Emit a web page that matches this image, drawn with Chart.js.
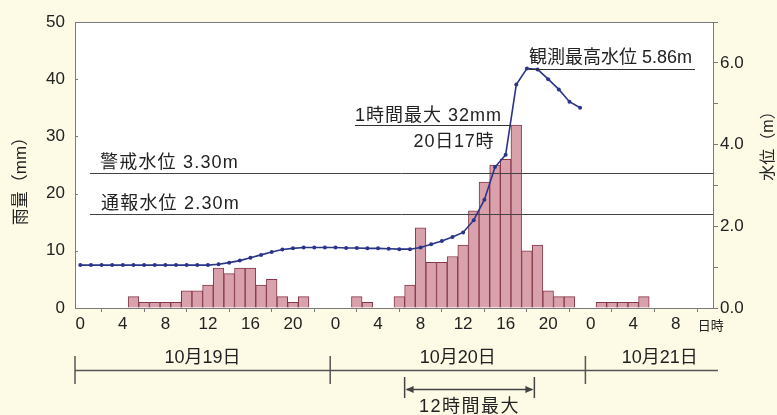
<!DOCTYPE html>
<html><head><meta charset="utf-8">
<script src="https://cdn.jsdelivr.net/npm/chart.js@4/dist/chart.umd.min.js"></script>
<style>html,body{margin:0;padding:0;background:#fdfae6;}#wrap{width:777px;height:415px;}</style>
</head><body><div id="wrap"><canvas id="c" width="777" height="415"></canvas></div>
<script>
// hourly categories: 10/19 0h .. 10/21 11h
const hourLabels = [
 '0','1','2','3','4','5','6','7','8','9','10','11','12','13','14','15','16','17','18','19','20','21','22','23',
 '0','1','2','3','4','5','6','7','8','9','10','11','12','13','14','15','16','17','18','19','20','21','22','23',
 '0','1','2','3','4','5','6','7','8','9','10','11'];
const dayLabels = ['10月19日','10月20日','10月21日'];
// hourly rainfall (mm)
const rainfall = [
 0,0,0,0,0,2,1,1,1,1,3,3,4,7,6,7,7,4,5,2,1,2,0,0,
 0,0,2,1,0,0,2,4,14,8,8,9,11,17,22,25,26,32,10,11,3,2,2,0,
 0,1,1,1,1,2,0,0,0,0,0,0];
// water level (m)
const waterLevel = [
 1.05,1.05,1.05,1.05,1.05,1.05,1.05,1.05,1.05,1.05,1.05,1.05,1.05,1.07,1.11,1.16,1.23,1.30,1.37,1.43,1.46,1.48,1.48,1.48,
 1.48,1.47,1.47,1.46,1.46,1.45,1.44,1.44,1.48,1.56,1.64,1.74,1.85,2.15,2.65,3.45,3.75,5.47,5.86,5.84,5.60,5.35,5.05,4.90];
const rainTicks = [0,10,20,30,40,50];
const levelTicks = [0,1,2,3,4,5,6,7];
const warnLevel = 3.30, reportLevel = 2.30, peakLevel = 5.86, peakIndex = 42, maxRain = 32, maxRainIndex = 41;
const max12Start = 30.5, max12End = 42.7;

const FONT = '"Liberation Sans","Noto Sans CJK JP",sans-serif';
const INK = '#222';
const AX = '#7a7a7a';

function txt(ctx, s, x, y, size, align, spacing) {
  ctx.save();
  ctx.font = size + 'px ' + FONT;
  ctx.fillStyle = INK;
  ctx.textAlign = align || 'left';
  ctx.textBaseline = 'alphabetic';
  if ('letterSpacing' in ctx) ctx.letterSpacing = (spacing || 0) + 'px';
  ctx.fillText(s, x, y);
  ctx.restore();
}
function line(ctx, x1, y1, x2, y2, color, w) {
  ctx.save();
  ctx.strokeStyle = color; ctx.lineWidth = w || 1;
  ctx.beginPath(); ctx.moveTo(x1, y1); ctx.lineTo(x2, y2); ctx.stroke();
  ctx.restore();
}

const deco = {
  id: 'deco',
  beforeDraw(chart) {
    const ctx = chart.ctx, a = chart.chartArea;
    ctx.save();
    ctx.fillStyle = '#fdfae6';
    ctx.fillRect(0, 0, chart.width, chart.height);
    ctx.fillStyle = '#ffffff';
    ctx.fillRect(a.left, a.top, a.right - a.left, a.bottom - a.top);
    ctx.restore();
  },
  afterDatasetDraw(chart, args) {
    if (args.index !== 1) return;
    const ctx = chart.ctx, a = chart.chartArea, y2 = chart.scales.y2;
    const yw = Math.round(y2.getPixelForValue(warnLevel)) + 0.5;
    const yr = Math.round(y2.getPixelForValue(reportLevel)) + 0.5;
    line(ctx, 90, yw, a.right, yw, '#444', 1);
    line(ctx, 90, yr, a.right, yr, '#444', 1);
  },
  afterDraw(chart) {
    const ctx = chart.ctx, a = chart.chartArea;
    const xs = chart.scales.x, ys = chart.scales.y, y2 = chart.scales.y2;
    const cw = (xs.right - xs.left) / hourLabels.length;
    const px = v => xs.getPixelForValue(0) + v * cw;
    // top frame
    line(ctx, a.left, a.top + 0.5, a.right, a.top + 0.5, AX, 1);
    // inward ticks on left axis
    rainTicks.forEach(v => {
      const y = Math.round(ys.getPixelForValue(v)) + 0.5;
      line(ctx, a.left, y, a.left + 3, y, AX, 1);
    });
    // axis titles
    ctx.save();
    ctx.translate(20, 177); ctx.rotate(-Math.PI / 2);
    txt(ctx, '雨量（mm）', 0, 6, 17, 'center');
    ctx.restore();
    ctx.save();
    ctx.translate(767, 142); ctx.rotate(-Math.PI / 2);
    txt(ctx, '水位（m）', 0, 6, 16, 'center');
    ctx.restore();
    txt(ctx, '日時', px(59) + 3, 330, 13, 'center');
    // reference level labels
    const yw = y2.getPixelForValue(warnLevel), yr = y2.getPixelForValue(reportLevel);
    txt(ctx, '警戒水位 3.30m', 100, yw - 5, 18, 'left', 1.2);
    txt(ctx, '通報水位 2.30m', 101, yr - 5, 18, 'left', 1.2);
    // peak level
    const yp = Math.round(y2.getPixelForValue(peakLevel)) + 0.5;
    line(ctx, px(peakIndex) + 2, yp, 695, yp, '#333', 1);
    txt(ctx, '観測最高水位 5.86m', 529, yp - 7, 18, 'left', 0);
    // max hourly rain
    const ym = Math.round(ys.getPixelForValue(maxRain)) + 0.5;
    line(ctx, 355, ym, px(maxRainIndex) - cw / 2, ym, '#333', 1);
    txt(ctx, '1時間最大 32mm', 355, ym - 5, 18, 'left', 1);
    txt(ctx, '20日17時', 454, ym + 21, 18, 'center', 0.8);
    // timeline of dates
    const ty = 370.5;
    line(ctx, a.left, ty, 718, ty, '#555', 1.5);
    [ -0.5, 23.5, 47.5 ].forEach(v => line(ctx, px(v), 356, px(v), 384, '#555', 1.5));
    txt(ctx, dayLabels[0], px(11.5), 363, 18, 'center', 0);
    txt(ctx, dayLabels[1], px(35.5), 363, 18, 'center', 0);
    txt(ctx, dayLabels[2], px(54.5), 363, 18, 'center', 0);
    // 12-hour max bracket
    const bx1 = px(max12Start), bx2 = px(max12End), by = 389.5;
    line(ctx, bx1, 377, bx1, 398, '#444', 1.5);
    line(ctx, bx2, 377, bx2, 398, '#444', 1.5);
    line(ctx, bx1 + 2, by, bx2 - 2, by, '#444', 1.5);
    ctx.save(); ctx.fillStyle = '#444';
    ctx.beginPath(); ctx.moveTo(bx1 + 1, by); ctx.lineTo(bx1 + 9, by - 3.5); ctx.lineTo(bx1 + 9, by + 3.5); ctx.closePath(); ctx.fill();
    ctx.beginPath(); ctx.moveTo(bx2 - 1, by); ctx.lineTo(bx2 - 9, by - 3.5); ctx.lineTo(bx2 - 9, by + 3.5); ctx.closePath(); ctx.fill();
    ctx.restore();
    txt(ctx, '12時間最大', (bx1 + bx2) / 2, 412, 18, 'center', 1.5);
  }
};

new Chart(document.getElementById('c'), {
  data: {
    labels: hourLabels,
    datasets: [
      {
        type: 'line', yAxisID: 'y2', order: 1,
        data: waterLevel,
        borderColor: '#2a3588', backgroundColor: '#2a3588',
        borderWidth: 1.6, pointRadius: 2, pointHoverRadius: 2,
        pointBorderWidth: 0, tension: 0, fill: false
      },
      {
        type: 'bar', yAxisID: 'y', order: 2,
        data: rainfall.map(v => v || null),
        backgroundColor: '#d9a1ab', borderColor: '#86384a', borderWidth: 1,
        barPercentage: 1, categoryPercentage: 1, borderSkipped: 'start'
      }
    ]
  },
  options: {
    responsive: false, animation: false, devicePixelRatio: 1, events: [],
    layout: { padding: { top: 22, bottom: 77, left: 0, right: 0 } },
    plugins: { legend: { display: false }, tooltip: { enabled: false } },
    scales: {
      x: {
        type: 'category', offset: true,
        grid: { display: true, drawOnChartArea: false, drawTicks: true, tickLength: 4, color: AX },
        border: { display: true, color: AX, width: 1 },
        ticks: {
          autoSkip: false, maxRotation: 0, minRotation: 0, padding: 2,
          color: INK, font: { family: FONT, size: 17 },
          callback: function (v, i) { return (i % 4 === 0 && i <= 56) ? hourLabels[i] : null; }
        },
        afterFit: s => { s.height = 30; }
      },
      y: {
        position: 'left', min: 0, max: 50,
        grid: { drawOnChartArea: false, drawTicks: false },
        border: { display: true, color: AX, width: 1 },
        ticks: { stepSize: 10, padding: 10, color: INK, font: { family: FONT, size: 17 } },
        afterFit: s => { s.width = 75; }
      },
      y2: {
        position: 'right', min: 0, max: 7,
        grid: { drawOnChartArea: false, drawTicks: true, tickLength: 5, color: AX },
        border: { display: true, color: AX, width: 1 },
        ticks: {
          stepSize: 1, padding: 2, color: INK, font: { family: FONT, size: 17 },
          callback: v => (levelTicks.includes(v) && v % 2 === 0 && v < 7) ? v.toFixed(1) : ''
        },
        afterFit: s => { s.width = 64; }
      }
    }
  },
  plugins: [deco]
});
</script>
</body></html>
